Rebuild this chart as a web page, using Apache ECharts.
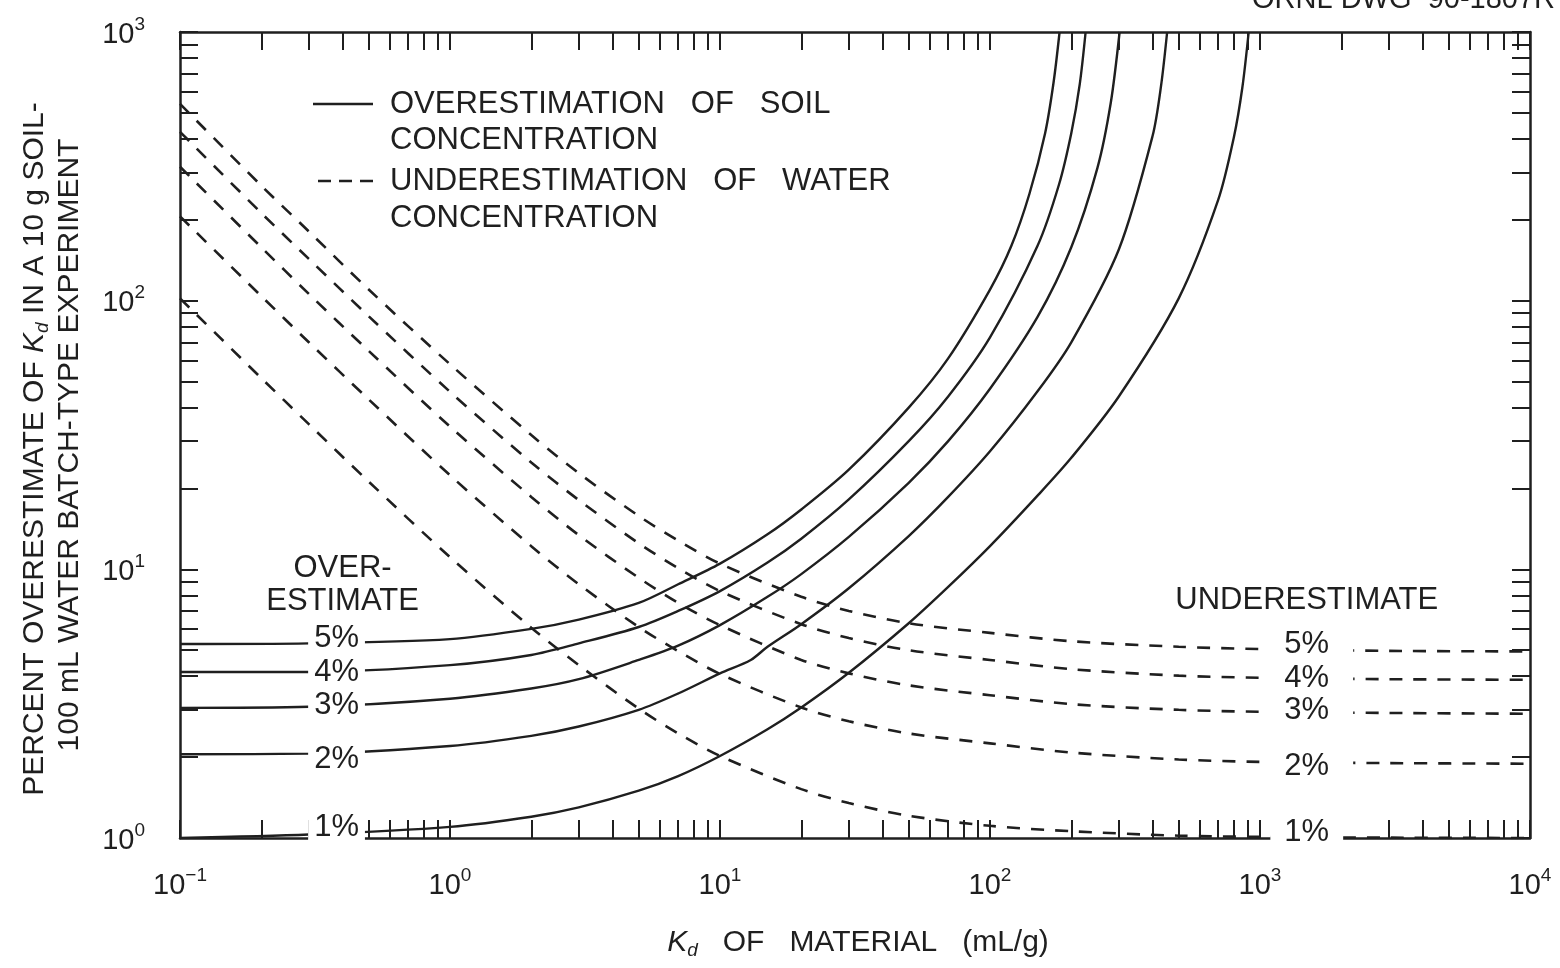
<!DOCTYPE html>
<html><head><meta charset="utf-8">
<script src="https://cdn.jsdelivr.net/npm/echarts@6/dist/echarts.min.js"></script>
<style>html,body{margin:0;padding:0;background:#fff}#c{width:1560px;height:968px}</style>
</head><body><div id="c"></div>
<script>
// ---- axis decades / tick values ----
const xDecades = [0.1, 1, 10, 100, 1000, 10000];
const yDecades = [1, 10, 100, 1000];
const minorSteps = [2, 3, 4, 5, 6, 7, 8, 9];
const xLabelExps = [-1, 0, 1, 2, 3, 4];
const yLabelExps = [0, 1, 2, 3];

// ---- solid: overestimation of soil concentration (Kd, % overestimate) ----
const overSoil5 = [[0.1,5.27],[0.3,5.3],[1,5.5],[2,6.0],[3,6.5],[5,7.5],[7,8.8],[10,10.5],[15,13.5],[20,16.7],[30,23.5],[50,40],[70,61],[100,110],[120,160],[140,250],[160,420],[172,650],[181,1000]];
const overSoil4 = [[0.1,4.15],[0.3,4.15],[1,4.4],[2,4.8],[3,5.3],[5,6.1],[7,7.0],[10,8.3],[15,10.6],[20,13],[30,18.2],[50,30],[70,44],[100,73],[150,160],[180,270],[200,420],[215,640],[226,1000]];
const overSoil3 = [[0.1,3.05],[0.3,3.08],[1,3.3],[2,3.6],[3,3.9],[5,4.6],[7,5.2],[10,6.2],[15,7.9],[20,9.6],[30,13.2],[50,21],[70,30],[100,47],[150,87],[200,158],[250,312],[280,544],[302,1000]];
const overSoil2 = [[0.1,2.05],[0.3,2.06],[1,2.2],[2,2.4],[3,2.6],[5,3.0],[7,3.45],[10,4.1],[13,4.6],[15,5.15],[20,6.25],[30,8.5],[50,13.3],[70,18.6],[100,27.5],[150,46],[200,70],[300,155],[400,410],[430,630],[453,1000]];
const overSoil1 = [[0.1,1.0],[0.3,1.03],[1,1.1],[2,1.2],[3,1.3],[5,1.5],[7,1.7],[10,2.02],[15,2.54],[20,3.06],[30,4.12],[50,6.3],[70,8.6],[100,12.2],[150,18.8],[200,26],[300,44],[500,102],[700,237],[800,405],[860,620],[908,1000]];

// ---- dashed: underestimation of water concentration ----
const underWater5 = [[0.1,540],[0.2,268],[0.3,181],[0.5,110],[1,58],[2,31.6],[3,22.8],[5,15.8],[7,12.8],[10,10.5],[20,7.9],[30,7.0],[50,6.3],[100,5.8],[200,5.4],[500,5.15],[1000,5.05],[3000,4.97],[10000,4.95]];
const underWater4 = [[0.1,425],[0.2,212],[0.3,143],[0.5,87.5],[1,45.8],[2,25],[3,18.1],[5,12.5],[7,10.1],[10,8.3],[20,6.25],[30,5.55],[50,5.0],[100,4.6],[200,4.25],[500,4.02],[1000,3.95],[3000,3.9],[10000,3.88]];
const underWater3 = [[0.1,315],[0.2,158],[0.3,106],[0.5,65],[1,34],[2,18.6],[3,13.4],[5,9.3],[7,7.5],[10,6.2],[20,4.6],[30,4.1],[50,3.7],[100,3.4],[200,3.15],[500,3.0],[1000,2.95],[3000,2.92],[10000,2.9]];
const underWater2 = [[0.1,206],[0.2,104],[0.3,70],[0.5,42.9],[1,22.4],[2,12.2],[3,8.8],[5,6.1],[7,4.96],[10,4.08],[20,3.06],[30,2.72],[50,2.45],[100,2.25],[200,2.08],[500,1.96],[1000,1.92],[3000,1.9],[10000,1.89]];
const underWater1 = [[0.1,102],[0.2,51.5],[0.3,34.7],[0.5,21.2],[1,11.1],[2,6.06],[3,4.4],[5,3.03],[7,2.45],[10,2.02],[20,1.52],[30,1.35],[50,1.21],[100,1.11],[200,1.06],[500,1.02],[1000,1.01],[3000,1.003],[10000,1.0]];

// ---- curve labels ----
const levelLabels = ['5%', '4%', '3%', '2%', '1%'];
const leftLabelKd = 0.38;
const leftLabelPct = [5.5, 4.11, 3.1, 1.95, 1.09];
const rightLabelKd = 1490;
const rightLabelPct = [5.23, 3.91, 2.97, 1.84, 1.04];
const overWords = ['OVER-', 'ESTIMATE'];
const overWordsAt = [[0.40, 10.0], [0.40, 7.56]];
const underWord = 'UNDERESTIMATE';
const underWordAt = [1490, 7.63];

// ---- build ----
const INK = '#1f1f1f';
const FONT = '"Liberation Sans", Arial, Helvetica, sans-serif';
const FS = 31;
const L = Math.log10;
const toLog = arr => arr.map(p => [L(p[0]), L(p[1])]);
function tickValues(decades) {
  const out = [];
  decades.forEach((d, i) => {
    out.push(L(d));
    if (i < decades.length - 1) minorSteps.forEach(m => out.push(L(d * m)));
  });
  return out;
}
const xTicks = tickValues(xDecades);
const yTicks = tickValues(yDecades);
const expText = v => { const n = Math.round(v); return n < 0 ? '\u2212' + (-n) : String(n); };
const powRich = {
  b: { fontSize: 29, lineHeight: 34, verticalAlign: 'bottom', fontFamily: FONT, color: INK },
  e: { fontSize: 19, lineHeight: 16, verticalAlign: 'top', fontFamily: FONT, color: INK }
};
function axis(pos, min, max, ticks, labelVals, margin) {
  return {
    type: 'value', position: pos, min: min, max: max, interval: 1,
    splitLine: { show: false },
    axisLine: { show: true, onZero: false, lineStyle: { color: INK, width: 2.5 } },
    axisTick: { show: true, inside: true, length: 18, customValues: ticks, lineStyle: { color: INK, width: 2 } },
    axisLabel: labelVals ? {
      show: true, customValues: labelVals, margin: margin,
      formatter: v => '{b|10}{e|' + expText(v) + '}', rich: powRich
    } : { show: false }
  };
}

const solidSets = [overSoil5, overSoil4, overSoil3, overSoil2, overSoil1];
const dashSets = [underWater5, underWater4, underWater3, underWater2, underWater1];
const series = [];
solidSets.forEach((s, i) => series.push({
  name: 'OVERESTIMATION OF SOIL CONCENTRATION ' + levelLabels[i], type: 'line', data: toLog(s),
  symbol: 'none', smooth: 0.3, silent: true, z: 3,
  lineStyle: { color: INK, width: 2.4, type: 'solid' }
}));
dashSets.forEach((s, i) => series.push({
  name: 'UNDERESTIMATION OF WATER CONCENTRATION ' + levelLabels[i], type: 'line', data: toLog(s),
  symbol: 'none', smooth: 0.3, silent: true, z: 3,
  lineStyle: { color: INK, width: 2.6, type: [13, 11] }
}));

const txt = { show: true, position: 'top', distance: 0, align: 'center', verticalAlign: 'middle',
  color: INK, opacity: 1, fontSize: FS, fontFamily: FONT, textBorderWidth: 0 };
const annot = [];
levelLabels.forEach((t, i) => {
  annot.push({ value: [L(leftLabelKd), L(leftLabelPct[i])],
    label: Object.assign({}, txt, { formatter: t, backgroundColor: '#ffffff', padding: [1, 6, 1, 6] }) });
  annot.push({ value: [L(rightLabelKd), L(rightLabelPct[i])],
    label: Object.assign({}, txt, { formatter: t, backgroundColor: '#ffffff', padding: i === 4 ? [1, 14, 1, 14] : [1, 24, 1, 24] }) });
});
overWords.forEach((t, i) => annot.push({ value: [L(overWordsAt[i][0]), L(overWordsAt[i][1])], label: Object.assign({}, txt, { formatter: t }) }));
annot.push({ value: [L(underWordAt[0]), L(underWordAt[1])], label: Object.assign({}, txt, { formatter: underWord }) });
series.push({ name: 'labels', type: 'scatter', data: annot, symbolSize: 1, silent: true, z: 10,
  itemStyle: { color: 'rgba(255,255,255,0)', opacity: 1 }, label: txt,
  emphasis: { disabled: true } });

const textStyle = (t, extra) => Object.assign({ text: t, fill: INK, fontSize: FS, fontFamily: FONT }, extra || {});
const kdRich = {
  i: { fontSize: 30, fontStyle: 'italic', fontFamily: FONT, fill: INK, lineHeight: 34 },
  s: { fontSize: 19, fontStyle: 'italic', fontFamily: FONT, fill: INK, lineHeight: 18, verticalAlign: 'bottom' },
  n: { fontSize: 30, fontFamily: FONT, fill: INK, lineHeight: 34 }
};

const option = {
  animation: false,
  backgroundColor: '#fff',
  grid: { left: 180, right: 30, top: 32, bottom: 130, containLabel: false },
  xAxis: [axis('bottom', -1, 4, xTicks, xLabelExps, 28), axis('top', -1, 4, xTicks, null)],
  yAxis: [axis('left', 0, 3, yTicks, yLabelExps, 35), axis('right', 0, 3, yTicks, null)],
  series: series,
  graphic: [
    { type: 'line', shape: { x1: 313, y1: 104, x2: 373, y2: 104 }, style: { stroke: INK, lineWidth: 2.4 } },
    { type: 'text', x: 390, y: 104, style: textStyle('OVERESTIMATION   OF   SOIL', { verticalAlign: 'middle' }) },
    { type: 'text', x: 390, y: 140, style: textStyle('CONCENTRATION', { verticalAlign: 'middle' }) },
    { type: 'line', shape: { x1: 318, y1: 181, x2: 373, y2: 181 }, style: { stroke: INK, lineWidth: 2.4, lineDash: [13, 8] } },
    { type: 'text', x: 390, y: 181, style: textStyle('UNDERESTIMATION   OF   WATER', { verticalAlign: 'middle' }) },
    { type: 'text', x: 390, y: 218, style: textStyle('CONCENTRATION', { verticalAlign: 'middle' }) },
    { type: 'text', x: 1555, y: 0, style: textStyle('ORNL DWG  90-1807R', { align: 'right', verticalAlign: 'middle', fontSize: 29 }) },
    { type: 'text', x: 858, y: 943, style: { text: '{i|K}{s|d}{n|   OF   MATERIAL   (mL/g)}', rich: kdRich, align: 'center', verticalAlign: 'middle' } },
    { type: 'text', x: 35, y: 449, rotation: Math.PI / 2,
      style: { text: '{n|PERCENT OVERESTIMATE OF }{i|K}{s|d}{n| IN A 10 g SOIL-}', rich: kdRich, align: 'center', verticalAlign: 'middle' } },
    { type: 'text', x: 70, y: 445, rotation: Math.PI / 2,
      style: textStyle('100 mL WATER BATCH-TYPE EXPERIMENT', { align: 'center', verticalAlign: 'middle', fontSize: 30 }) }
  ]
};
echarts.init(document.getElementById('c'), null, { renderer: 'canvas' }).setOption(option);
</script></body></html>
